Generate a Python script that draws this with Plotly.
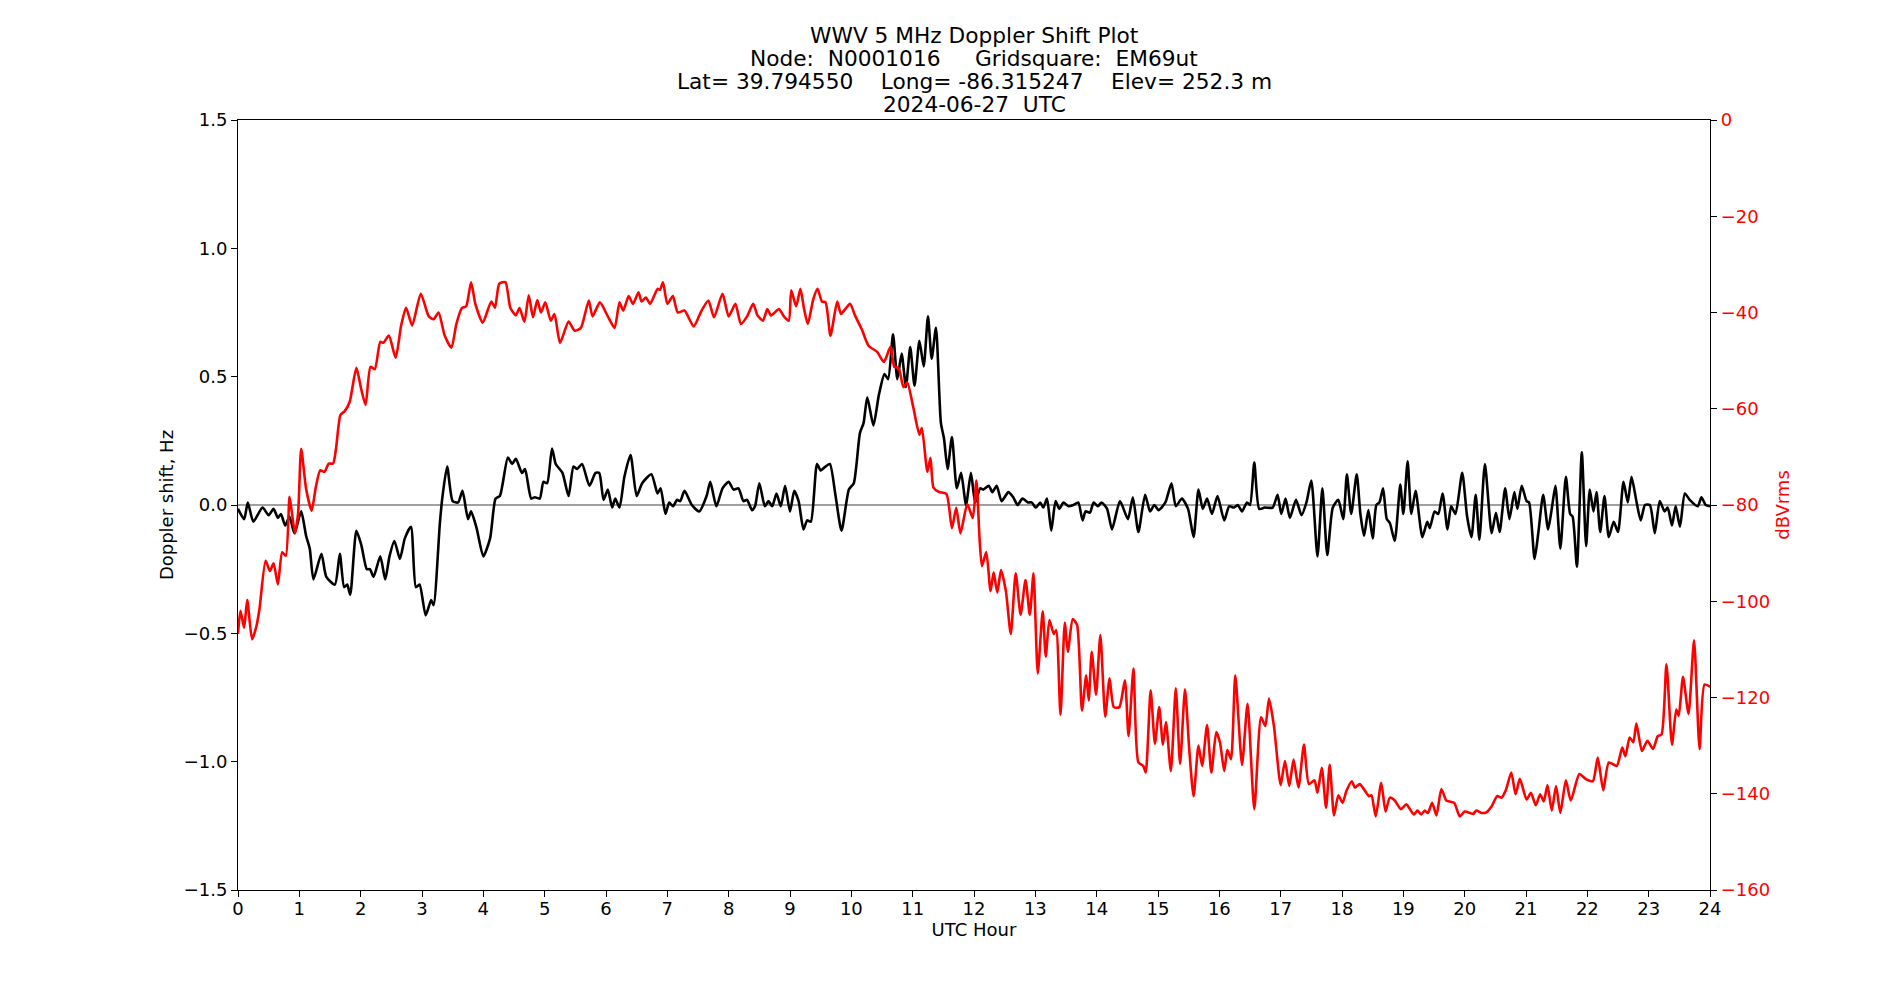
import plotly.graph_objects as go

# ---- Doppler shift (Hz), black trace ----
dop_hours = [
    0, 0.1, 0.16, 0.25, 0.4, 0.5, 0.58, 0.65, 0.7, 0.77, 0.84, 0.92, 1.03, 1.11, 1.17, 1.23,
    1.36, 1.44, 1.58, 1.66, 1.73, 1.78, 1.83, 1.93, 2.01, 2.1, 2.15, 2.21, 2.32, 2.4, 2.47,
    2.55, 2.64, 2.72, 2.82, 2.9, 2.96, 3.06, 3.15, 3.19, 3.29, 3.33, 3.41, 3.5, 3.59, 3.66,
    3.75, 3.8, 3.89,
    4.0, 4.11, 4.2, 4.27, 4.4, 4.47, 4.53, 4.63, 4.68, 4.78, 4.84, 4.92, 4.98, 5.04, 5.12,
    5.18, 5.29, 5.39, 5.47, 5.53, 5.61, 5.73, 5.83, 5.89, 5.96, 6.03, 6.1, 6.15, 6.22, 6.3,
    6.4, 6.5, 6.59, 6.74, 6.84, 6.89, 6.97, 7.03, 7.09, 7.16, 7.21, 7.28, 7.4, 7.52, 7.64,
    7.7, 7.8, 7.9, 8.0,
    8.08, 8.16, 8.24, 8.3, 8.38, 8.43, 8.5, 8.59, 8.65, 8.71, 8.78, 8.85, 8.92, 9.0, 9.07,
    9.14, 9.22, 9.28, 9.34, 9.44, 9.5, 9.58, 9.65, 9.74, 9.84, 9.96, 10.04, 10.14, 10.2,
    10.26, 10.36, 10.45, 10.54, 10.6, 10.68, 10.75, 10.82, 10.89, 10.96, 11.03, 11.11,
    11.18, 11.25, 11.31, 11.38, 11.46, 11.51, 11.57, 11.64, 11.72, 11.79, 11.87,
    11.95, 12.02, 12.1, 12.15, 12.24, 12.3, 12.37, 12.45, 12.56, 12.64, 12.71, 12.79, 12.88,
    12.94, 13.01, 13.08, 13.13, 13.19, 13.26, 13.33, 13.39, 13.46, 13.54, 13.62, 13.7, 13.77,
    13.82, 13.89, 13.95, 14.02, 14.08, 14.17, 14.25, 14.38, 14.51, 14.59, 14.68, 14.79,
    14.87, 14.94, 15.01, 15.12, 15.22, 15.29, 15.39, 15.49, 15.58, 15.66, 15.73, 15.8,
    15.88, 15.97,
    16.08, 16.16, 16.24, 16.3, 16.37, 16.45, 16.5, 16.57, 16.65, 16.74, 16.87, 16.95, 17.01,
    17.08, 17.15, 17.25, 17.34, 17.42, 17.5, 17.6, 17.68, 17.76, 17.85, 17.94, 18.02, 18.08,
    18.15, 18.24, 18.3, 18.36, 18.43, 18.5, 18.56, 18.61, 18.67, 18.73, 18.78, 18.86, 18.95,
    19.0, 19.07, 19.13, 19.2, 19.31, 19.39, 19.43, 19.51, 19.57, 19.64, 19.72, 19.78, 19.85,
    19.96, 20.04, 20.11, 20.18, 20.24, 20.33, 20.44, 20.51, 20.57, 20.66, 20.73, 20.81,
    20.86, 20.93, 21.01, 21.05, 21.14, 21.2, 21.28, 21.36, 21.42, 21.48, 21.56, 21.65, 21.72,
    21.76, 21.83, 21.91, 21.98, 22.04, 22.1, 22.15, 22.21, 22.28, 22.35, 22.43, 22.5, 22.59,
    22.66, 22.72, 22.8, 22.87, 22.94, 23.02, 23.1, 23.18, 23.26, 23.31, 23.38, 23.44, 23.51,
    23.59, 23.67, 23.8, 23.86, 23.93, 24.0,
]
dop_hz = [
    -0.015, -0.055, 0.01, -0.065, -0.01, -0.04, -0.015, -0.05, -0.035, -0.08, -0.045, -0.11,
    -0.025, -0.12, -0.17, -0.29, -0.19, -0.28, -0.31, -0.19, -0.32, -0.31, -0.35, -0.10,
    -0.155, -0.25, -0.25, -0.28, -0.20, -0.29, -0.20, -0.14, -0.21, -0.13, -0.085, -0.32,
    -0.31, -0.43, -0.37, -0.39, -0.075, 0.025, 0.15, 0.015, 0.01, 0.055, -0.055, -0.025,
    -0.09,
    -0.20, -0.13, 0.025, 0.035, 0.185, 0.16, 0.18, 0.125, 0.14, 0.025, 0.03, 0.025, 0.09,
    0.085, 0.22, 0.16, 0.125, 0.035, 0.15, 0.14, 0.16, 0.075, 0.125, 0.125, 0.02, 0.06,
    -0.01, 0.025, -0.01, 0.11, 0.195, 0.035, 0.085, 0.12, 0.045, 0.065, -0.035, 0.01,
    -0.005, 0.02, 0.015, 0.055, 0.0, -0.025, 0.035, 0.09, -0.005, 0.065, 0.09,
    0.06, 0.065, 0.015, 0.02, -0.02, -0.005, 0.085, -0.005, 0.015, -0.005, 0.045, -0.005,
    0.075, -0.025, 0.055, 0.015, -0.095, -0.06, -0.065, 0.16, 0.135, 0.15, 0.16, 0.04,
    -0.1, 0.06, 0.085, 0.28, 0.32, 0.42, 0.31, 0.43, 0.51, 0.49, 0.665, 0.49, 0.59, 0.46,
    0.615, 0.465, 0.64, 0.54, 0.735, 0.57, 0.69, 0.32, 0.26, 0.14, 0.265, 0.065, 0.125, 0.0,
    0.125, 0.01, 0.065, 0.06, 0.075, 0.05, 0.075, 0.015, 0.05, 0.03, 0.0, 0.025, 0.01,
    0.01, -0.01, 0.01, -0.01, 0.025, -0.1, 0.015, -0.015, 0.01, -0.005, 0.0, 0.01, -0.06,
    -0.025, -0.03, 0.01, -0.005, 0.01, -0.015, -0.095, 0.015, -0.055, 0.03, -0.105, 0.04,
    -0.025, 0.0, -0.02, 0.01, 0.085, -0.005, 0.025, -0.015, -0.125, 0.06, -0.015, 0.025,
    -0.035, 0.035,
    -0.06, -0.005, -0.01, 0.0, -0.025, 0.01, 0.0, 0.165, -0.015, -0.01, -0.01, 0.04, -0.035,
    0.025, -0.05, 0.02, -0.04, 0.01, 0.095, -0.2, 0.065, -0.195, -0.01, 0.02, -0.055, 0.12,
    -0.035, 0.12, -0.035, -0.12, -0.02, -0.13, 0.0, 0.01, 0.065, -0.055, -0.07, -0.14, 0.08,
    -0.035, 0.17, -0.035, 0.055, -0.125, -0.065, -0.09, -0.025, -0.035, 0.045, -0.095,
    -0.005, -0.035,
    0.125, -0.045, -0.125, 0.04, -0.135, 0.16, -0.11, -0.03, -0.105, 0.065, -0.055, 0.05,
    -0.015, 0.075, 0.015, 0.01, -0.21, -0.11, 0.04, -0.095, -0.015, 0.075, -0.17, 0.11,
    -0.035, -0.045, -0.24, 0.205, -0.16, 0.06, -0.025, 0.05, -0.105, 0.035, -0.125, -0.065,
    -0.105, 0.09, 0.01, 0.11, 0.015, -0.06, 0.0, 0.0, -0.11, 0.015, -0.025, -0.01, -0.08,
    -0.005, -0.085, 0.045, 0.02, -0.005, 0.03, 0.0, -0.005,
]

# ---- Signal level (dBVrms), red trace ----
lvl_hours = [
    0, 0.04, 0.1, 0.15, 0.23, 0.3, 0.35, 0.45, 0.52, 0.58, 0.65, 0.72, 0.78, 0.84, 0.88,
    0.93, 0.98, 1.03, 1.11, 1.2, 1.27, 1.34, 1.41, 1.48, 1.55, 1.6, 1.67, 1.74, 1.82, 1.93,
    2.01, 2.08, 2.16, 2.23, 2.32, 2.37, 2.46, 2.57, 2.66, 2.74, 2.84, 2.98, 3.11, 3.19,
    3.27, 3.37, 3.48, 3.56, 3.65, 3.72, 3.8, 3.87,
    3.99, 4.13, 4.19, 4.26, 4.36, 4.44, 4.53, 4.59, 4.67, 4.74, 4.81, 4.88, 4.94, 5.01,
    5.1, 5.16, 5.25, 5.39, 5.49, 5.59, 5.72, 5.78, 5.9, 6.03, 6.14, 6.22, 6.28, 6.37, 6.44,
    6.53, 6.58, 6.65, 6.72, 6.84, 6.88, 6.93, 7.0, 7.09, 7.17, 7.28, 7.43, 7.55, 7.67, 7.76,
    7.9, 8.0,
    8.11, 8.2, 8.3, 8.4, 8.47, 8.56, 8.63, 8.69, 8.82, 8.9, 8.98, 9.02, 9.1, 9.17, 9.23,
    9.29, 9.38, 9.45, 9.52, 9.58, 9.66, 9.77, 9.83, 9.9, 9.98, 10.06, 10.17, 10.28, 10.42,
    10.53, 10.64, 10.7, 10.77, 10.85, 10.91, 11.01, 11.11, 11.15, 11.24, 11.29, 11.34,
    11.43, 11.55, 11.64, 11.71, 11.78, 11.89,
    11.98, 12.04, 12.09, 12.13, 12.2, 12.27, 12.32, 12.38, 12.44, 12.52, 12.6, 12.68, 12.76,
    12.84, 12.91, 12.97, 13.04, 13.12, 13.17, 13.23, 13.3, 13.34, 13.41, 13.48, 13.53, 13.61,
    13.68, 13.76, 13.83, 13.87, 13.92, 13.99, 14.06, 14.14, 14.21, 14.28, 14.37, 14.46,
    14.52, 14.6, 14.68, 14.76, 14.8, 14.88, 14.95, 15.02, 15.08, 15.13, 15.21, 15.29, 15.36,
    15.44, 15.51, 15.58, 15.66, 15.72, 15.8, 15.87,
    15.95, 16.01, 16.08, 16.13, 16.19, 16.26, 16.37, 16.46, 16.57, 16.68, 16.75, 16.81,
    16.89, 17.0, 17.07, 17.14, 17.21, 17.29, 17.38, 17.46, 17.55, 17.6, 17.67, 17.74, 17.8,
    17.87, 17.94, 18.01, 18.07, 18.16, 18.21, 18.29, 18.44, 18.48, 18.55, 18.64, 18.71,
    18.78, 18.86, 18.96, 19.05, 19.17, 19.23, 19.29, 19.35, 19.4, 19.47, 19.54, 19.62, 19.7,
    19.75, 19.83,
    19.92, 20.0, 20.09, 20.14, 20.19, 20.28, 20.36, 20.44, 20.53, 20.6, 20.67, 20.76, 20.83,
    20.9, 21.01, 21.08, 21.16, 21.23, 21.29, 21.35, 21.42, 21.49, 21.56, 21.65, 21.73,
    21.87, 21.97, 22.09, 22.17, 22.26, 22.35, 22.48, 22.57, 22.62, 22.69, 22.75, 22.8,
    22.89, 22.98, 23.07, 23.15, 23.21, 23.29, 23.38, 23.45, 23.49, 23.56, 23.65, 23.74,
    23.83, 23.91, 24.0,
]
lvl_db = [
    -106.8, -102, -105.5, -99.7, -107.9, -105.2, -101.6, -91.6, -93.7, -92.1, -96.5, -89.8,
    -90.6, -78.3, -81.7, -85.9, -81.7, -68.3, -76.6, -81.2, -76.2, -72.8, -73.1, -71.4,
    -71.4, -68.1, -61.3, -60.5, -58.6, -51.5, -56, -59.2, -51.3, -51.8, -46.1, -46.3, -44.8,
    -49.4, -42.7, -39, -42.7, -36.1, -40.8, -41.4, -40, -44.8, -47.3, -42.4, -39.1, -38.7,
    -33.7, -38.2,
    -42.1, -37.7, -39, -34, -33.7, -39, -40.6, -39.1, -41.9, -36.4, -41, -37.4, -40, -37.9,
    -41.7, -40.3, -46.3, -41.9, -43.8, -43.2, -37.5, -40.8, -37.9, -40.8, -43.2, -37.9,
    -39.6, -36.6, -38.2, -35.8, -37.7, -36.9, -38.2, -35.1, -35.3, -33.7, -38.2, -36.6, -40,
    -39.6, -42.9, -39.8, -37.5, -41, -36.1, -40.8,
    -38.2, -42.4, -40.8, -38.2, -40.6, -41.7, -39.3, -40.6, -39.3, -40.8, -41.7, -35.4,
    -38.7, -35.1, -39.3, -42.4, -37.2, -35.1, -37.7, -37.9, -44.8, -37.7, -40.3, -39.3,
    -38.2, -40.6, -43.5, -46.9, -48.2, -50.3, -47.1, -51.3, -51.5, -55.5, -54.5, -59.7,
    -65.4, -64, -73.1, -70.2, -76.4, -77.3, -77.7, -84.8, -80.6, -85.9, -79.8,
    -82.7, -74.9, -86.9, -92.7, -89.8, -97.9, -94, -98.2, -93.5, -97.9, -106.8, -94.2,
    -102.8, -95.6, -102.8, -94.2, -115, -102.1, -111.5, -103.9, -106.8, -106, -123.6,
    -104.5, -110.5, -103.7, -104.9, -122.7, -115.4, -120.6, -110.5, -119.4, -107, -124,
    -116, -122, -122, -116.4, -128, -114, -133.5, -134.2, -135.6, -118.5, -129.6, -122,
    -129.8, -125.1, -135.3, -118.1, -133.8, -118.3, -130.9, -140.5, -130, -134.2, -125.7,
    -135.6,
    -127.2, -129.3, -135.3, -130.9, -132.8, -115.4, -134, -121.3, -143.2, -124.1, -125.9,
    -120.2, -125.9, -138.2, -133.2, -138.4, -132.9, -138.7, -129.8, -138, -137.2, -139.8,
    -134.6, -142.9, -134, -144.5, -140.3, -141.9, -139.5, -137.4, -138.7, -138, -140.5,
    -140.3, -144.7, -137.7, -143.7, -140.8, -141.4, -143.2, -142.2, -144.3, -143.5, -144.3,
    -143.5, -144, -141.9, -144.5, -139, -141.4, -141.6, -141.9,
    -144.7, -143.7, -144, -144.2, -143.5, -144, -143.8, -142.6, -140.5, -140.8, -139.3,
    -135.6, -140.1, -136.9, -141.2, -139.8, -142.4, -140.1, -141.6, -138.2, -143.5, -138.4,
    -144, -137.2, -141.4, -135.9, -136.9, -137.4, -132.5, -139.3, -133.5, -134.2, -130.4,
    -132.2, -128.3, -129.3, -125.4, -131.1, -129, -130.7, -128, -127.7, -113.1, -129.8,
    -122.5, -123.8, -115.7, -123.4, -108.1, -130.7, -117.3, -117.8,
]

x_ticks = list(range(0, 25))
left_ticks = [-1.5, -1.0, -0.5, 0.0, 0.5, 1.0, 1.5]
right_ticks = [0, -20, -40, -60, -80, -100, -120, -140, -160]

NB = "\u00a0"
title_lines = [
    "WWV 5 MHz Doppler Shift Plot",
    "Node:" + NB * 2 + "N0001016" + NB * 5 + "Gridsquare:" + NB * 2 + "EM69ut",
    "Lat=" + NB + "39.794550" + NB * 4 + "Long=" + NB + "-86.315247" + NB * 4 + "Elev=" + NB + "252.3" + NB + "m",
    "2024-06-27" + NB * 2 + "UTC",
]
title_shifts = [85, 62, 39, 16]

FONT = "DejaVu Sans"
TICK = 18
TITLE = 21.7

fig = go.Figure()
fig.add_trace(go.Scatter(
    x=dop_hours, y=dop_hz, mode="lines", name="Doppler",
    line=dict(color="black", width=2.6, shape="spline", smoothing=0.6),
    yaxis="y", showlegend=False,
))
fig.add_trace(go.Scatter(
    x=lvl_hours, y=lvl_db, mode="lines", name="Level",
    line=dict(color="red", width=2.6, shape="spline", smoothing=0.6),
    yaxis="y2", showlegend=False,
))

fig.add_shape(type="line", xref="x", yref="y", x0=0, x1=24, y0=0, y1=0,
              line=dict(color="#808080", width=1.3), layer="below")

for line, shift in zip(title_lines, title_shifts):
    fig.add_annotation(text=line, xref="paper", yref="paper", x=0.5, y=1,
                       xanchor="center", yanchor="middle", yshift=shift,
                       showarrow=False, font=dict(family=FONT, size=TITLE, color="black"))

fig.update_layout(
    width=1900, height=1000,
    margin=dict(l=237.5, r=190, t=120, b=110, autoexpand=False),
    paper_bgcolor="white", plot_bgcolor="white",
    font=dict(family=FONT, size=TICK, color="black"),
    xaxis=dict(
        range=[0, 24], tickmode="array", tickvals=x_ticks,
        ticktext=[str(v) for v in x_ticks],
        ticks="outside", ticklen=6, tickwidth=1.1, tickcolor="black",
        ticklabelstandoff=-4,
        showline=True, linecolor="black", linewidth=1.1, mirror=True,
        showgrid=False, zeroline=False,
        title=dict(text="UTC Hour", font=dict(family=FONT, size=TICK), standoff=5),
    ),
    yaxis=dict(
        range=[-1.5, 1.5], tickmode="array", tickvals=left_ticks,
        ticktext=[("\u2212" if v < 0 else "") + f"{abs(v):.1f}" for v in left_ticks],
        ticks="outside", ticklen=6, tickwidth=1.1, tickcolor="black",
        showline=True, linecolor="black", linewidth=1.1, mirror=True,
        showgrid=False, zeroline=False,
        title=dict(text="Doppler shift, Hz", font=dict(family=FONT, size=TICK), standoff=5),
    ),
    yaxis2=dict(
        range=[-160, 0], overlaying="y", side="right",
        tickmode="array", tickvals=right_ticks,
        ticktext=[("\u2212" if v < 0 else "") + str(abs(v)) for v in right_ticks],
        tickfont=dict(color="red", family=FONT, size=TICK),
        ticks="outside", ticklen=6, tickwidth=1.1, tickcolor="black",
        showline=True, linecolor="black", linewidth=1.1,
        showgrid=False, zeroline=False,
        title=dict(text="dBVrms", font=dict(family=FONT, size=TICK, color="red"), standoff=7),
    ),
)

fig.write_html("out.html")
